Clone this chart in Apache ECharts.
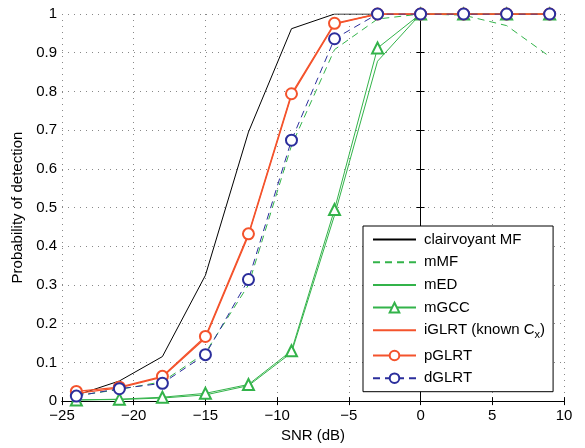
<!DOCTYPE html>
<html>
<head>
<meta charset="utf-8">
<script src="https://cdn.jsdelivr.net/npm/echarts@6/dist/echarts.min.js"></script>
<style>
	html, body { margin: 0; padding: 0; background: #fff; }
	#chart { width: 585px; height: 448px; }
</style>
</head>
<body>
<div id="chart"></div>
<script>
// SNR points (dB)
var snr = [-24, -21, -18, -15, -12, -9, -6, -3, 0, 3, 6, 9];

var clairvoyantMF = [0.015, 0.052, 0.115, 0.325, 0.695, 0.962, 1, 1, 1, 1, 1, 1];
var mMF = [0.014, 0.030, 0.050, 0.125, 0.300, 0.660, 0.908, 0.987, 1, 0.997, 0.970, 0.890];
var mED = [0.003, 0.004, 0.008, 0.016, 0.040, 0.125, 0.480, 0.878, 1, 1, 1, 1];
var mGCC = [0.003, 0.005, 0.010, 0.020, 0.043, 0.130, 0.495, 0.912, 1, 1, 1, 1];
var iGLRT = [0.020, 0.034, 0.062, 0.163, 0.428, 0.790, 0.974, 1, 1, 1, 1, 1];
var pGLRT = [0.025, 0.036, 0.064, 0.167, 0.432, 0.794, 0.976, 1, 1, 1, 1, 1];
var dGLRT = [0.013, 0.032, 0.046, 0.120, 0.314, 0.674, 0.936, 1, 1, 1, 1, 1];

var legendNames = ['clairvoyant MF', 'mMF', 'mED', 'mGCC', 'iGLRT', 'pGLRT', 'dGLRT'];

var black = '#000000';
var green = '#33b34a';
var red = '#f4532c';
var blue = '#2b2e9c';

var colorOf = {
	'clairvoyant MF': black, 'mMF': green, 'mED': green, 'mGCC': green,
	'iGLRT': red, 'pGLRT': red, 'dGLRT': blue
};
var dashed = { 'mMF': 1, 'dGLRT': 1 };

function pairs(vals) {
	return snr.map(function(x, i) { return [x, vals[i]]; });
}

function minus(v) {
	return String(v).replace('-', '\u2212');
}

var font = 'Liberation Sans, Arial, Helvetica, sans-serif';

function line(name, vals, opts) {
	opts = opts || {};
	var color = colorOf[name];
	return {
		name: name,
		type: 'line',
		data: pairs(vals),
		symbol: opts.symbol || 'circle',
		symbolSize: opts.symbolSize || 11,
		showSymbol: !!opts.symbol,
		lineStyle: { color: color, width: opts.width || 1, type: dashed[name] ? [7, 5] : 'solid' },
		// series without markers keep an invisible symbol so the legend shows only a line
		itemStyle: { color: color, borderColor: color, borderWidth: 1, opacity: opts.symbol ? 1 : 0 },
		animation: false,
		z: opts.z || 2
	};
}

var chart = echarts.init(document.getElementById('chart'));
chart.setOption({
	backgroundColor: '#fff',
	textStyle: { fontFamily: font },
	grid: { left: 62, right: 21, top: 14, bottom: 44 },
	xAxis: [{
		type: 'value', min: -25, max: 10, interval: 5,
		name: 'SNR (dB)', nameLocation: 'middle', nameGap: 26,
		nameTextStyle: { color: '#000', fontSize: 15, fontFamily: font },
		axisLine: { show: true, lineStyle: { color: '#000' } },
		axisTick: { inside: true, length: 4, lineStyle: { color: '#000' } },
		axisLabel: { color: '#000', fontSize: 15, margin: 7, formatter: minus },
		splitLine: { show: true, lineStyle: { color: '#888', type: [1, 5] } }
	}, {
		type: 'value', min: -25, max: 10, interval: 5, position: 'top',
		axisLine: { show: true, lineStyle: { color: '#000' } },
		axisTick: { inside: true, length: 4, lineStyle: { color: '#000' } },
		axisLabel: { show: false },
		splitLine: { show: false }
	}],
	yAxis: [{
		type: 'value', min: 0, max: 1, interval: 0.1,
		name: 'Probability of detection', nameLocation: 'middle', nameGap: 29,
		nameTextStyle: { color: '#000', fontSize: 15, fontFamily: font },
		axisLine: { show: true, lineStyle: { color: '#000' } },
		axisTick: { inside: true, length: 4, lineStyle: { color: '#000' } },
		axisLabel: { color: '#000', fontSize: 15, margin: 5, formatter: function(v) { return String(+v.toFixed(1)); } },
		splitLine: { show: true, lineStyle: { color: '#888', type: [1, 5] } }
	}, {
		type: 'value', min: 0, max: 1, interval: 0.1, position: 'right',
		axisLine: { show: true, lineStyle: { color: '#000' } },
		axisTick: { inside: true, length: 4, lineStyle: { color: '#000' } },
		axisLabel: { show: false },
		splitLine: { show: false }
	}],
	legend: {
		orient: 'vertical',
		left: 363, top: 226,
		padding: [6, 8, 6, 9],
		itemWidth: 43, itemHeight: 12,
		itemGap: 7.7,
		backgroundColor: '#fff',
		borderColor: '#000', borderWidth: 1,
		textStyle: {
			color: '#000', fontSize: 15, fontFamily: font, padding: [0, 0, 0, 3],
			rich: { sub: { fontSize: 11, verticalAlign: 'bottom', padding: [9, 0, 0, 0] } }
		},
		formatter: function(n) {
			if (n === 'iGLRT') return 'iGLRT (known C{sub|x})';
			return n;
		},
		data: legendNames
	},
	series: [
		line('clairvoyant MF', clairvoyantMF),
		line('mMF', mMF),
		line('mED', mED),
		line('mGCC', mGCC, { symbol: 'emptyTriangle', symbolSize: 11 }),
		line('iGLRT', iGLRT, { width: 1.3 }),
		line('pGLRT', pGLRT, { symbol: 'emptyCircle', symbolSize: 11, width: 1.3, z: 3 }),
		line('dGLRT', dGLRT, { symbol: 'emptyCircle', symbolSize: 11, z: 4 })
	]
});
</script>
</body>
</html>
